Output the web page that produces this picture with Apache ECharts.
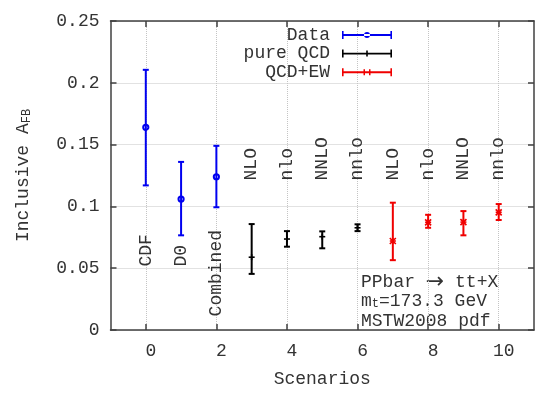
<!DOCTYPE html>
<html><head><meta charset="utf-8">
<script src="https://cdn.jsdelivr.net/npm/echarts@6/dist/echarts.min.js"></script>
<style>html,body{margin:0;padding:0;background:#fff}#c{width:550px;height:393px}</style>
</head><body><div id="c"></div><script>
const FONT = '"Liberation Mono", "DejaVu Sans Mono", monospace';
const TXT = '#333';

// Measured data
const dataX   = [0, 1, 2];
const dataVal = [0.164, 0.106, 0.124];
const dataLo  = [0.117, 0.0766, 0.0993];
const dataHi  = [0.2105, 0.136, 0.149];

const qcdX   = [3, 4, 5, 6];
const qcdVal = [0.0589, 0.0736, 0.0755, 0.0827];
const qcdLo  = [0.0454, 0.0674, 0.0661, 0.0800];
const qcdHi  = [0.0857, 0.0800, 0.0798, 0.0855];

const ewX   = [7, 8, 9, 10];
const ewVal = [0.0720, 0.0871, 0.0873, 0.0952];
const ewLo  = [0.0565, 0.0827, 0.0766, 0.0890];
const ewHi  = [0.1030, 0.0932, 0.0962, 0.1019];

// Tick values
const xTickValues = [0, 2, 4, 6, 8, 10];
const yTickValues = [0, 0.05, 0.1, 0.15, 0.2, 0.25];

// Annotation labels (data coordinates where the rotated text starts)
const bottomLabels = ['CDF', 'D0', 'Combined'];
const bottomLabelX = [0, 1, 2];
const bottomLabelY = [0.0513, 0.0513, 0.011];
const topLabels = ['NLO', 'nlo', 'NNLO', 'nnlo', 'NLO', 'nlo', 'NNLO', 'nnlo'];
const topLabelX = [3, 4, 5, 6, 7, 8, 9, 10];
const topLabelY = [0.121, 0.121, 0.121, 0.121, 0.121, 0.121, 0.121, 0.121];

const seriesNames = ['Data', 'pure QCD', 'QCD+EW'];
const seriesColors = ['#0000f0', '#000000', '#f00000'];

function rows(x, v, lo, hi) { return x.map((xx, i) => [xx, v[i], lo[i], hi[i]]); }

function marker(kind, cx, cy, color) {
  const s = {stroke: color, lineWidth: 1.6};
  if (kind === 'circle') return [{type: 'circle', shape: {cx, cy, r: 2.6}, style: {fill: 'none', stroke: color, lineWidth: 2}}];
  const out = [
    {type: 'line', shape: {x1: cx - 3, y1: cy, x2: cx + 3, y2: cy}, style: s},
    {type: 'line', shape: {x1: cx, y1: cy - 3, x2: cx, y2: cy + 3}, style: s}
  ];
  if (kind === 'star') {
    out.push({type: 'line', shape: {x1: cx - 3, y1: cy - 3, x2: cx + 3, y2: cy + 3}, style: s});
    out.push({type: 'line', shape: {x1: cx - 3, y1: cy + 3, x2: cx + 3, y2: cy - 3}, style: s});
  }
  return out;
}

function errRender(color, kind) {
  return function (params, api) {
    const x = api.value(0), v = api.value(1), lo = api.value(2), hi = api.value(3);
    const pc = api.coord([x, v]), pl = api.coord([x, lo]), ph = api.coord([x, hi]);
    const st = {stroke: color, lineWidth: 2};
    const cap = 3;
    return {type: 'group', children: [
      {type: 'line', shape: {x1: pl[0], y1: pl[1], x2: ph[0], y2: ph[1]}, style: st},
      {type: 'line', shape: {x1: pl[0] - cap, y1: pl[1], x2: pl[0] + cap, y2: pl[1]}, style: st},
      {type: 'line', shape: {x1: ph[0] - cap, y1: ph[1], x2: ph[0] + cap, y2: ph[1]}, style: st}
    ].concat(marker(kind, pc[0], pc[1], color))};
  };
}

function labelRender(texts) {
  return function (params, api) {
    const p = api.coord([api.value(0), api.value(1)]);
    return {type: 'text', x: p[0], y: p[1], rotation: Math.PI / 2,
      style: {text: texts[params.dataIndex], x: 0, y: 0, font: '18px ' + FONT, fill: TXT,
              align: 'left', verticalAlign: 'middle'}};
  };
}

// legend icons: a tiny dot at the far left widens the box so the visible sample keeps a gap from the text
const icons = [
  'path://M-7,4h0.01v0.01h-0.01z M0,0h1.6v8h-1.6z M0,3h50v2h-50z M48.4,0h1.6v8h-1.6z M22,4a3,3 0 1,0 6,0a3,3 0 1,0 -6,0z',
  'path://M-7,4h0.01v0.01h-0.01z M0,0h1.6v8h-1.6z M0,3.2h50v1.6h-50z M48.4,0h1.6v8h-1.6z M24.2,1h1.6v6h-1.6z',
  'path://M-7,4h0.01v0.01h-0.01z M0,0h1.6v8h-1.6z M0,3h50v2h-50z M48.4,0h1.6v8h-1.6z M21.5,1h1.5v6h-1.5z M27,1h1.5v6h-1.5z'
];

const axisLineStyle = {color: '#404040', width: 1.5};
const gridLineStyle = {color: '#c4c4c4', type: 'dotted', width: 1};
const subRich = {
  n: {fontFamily: FONT, fontSize: 18, lineHeight: 18, color: TXT, verticalAlign: 'top'},
  s: {fontFamily: FONT, fontSize: 12, lineHeight: 12, color: TXT, verticalAlign: 'bottom', padding: [8, 0, 0, 0]}
};
const chart = echarts.init(document.getElementById('c'), null, {renderer: 'canvas'});
chart.setOption({
  animation: false,
  backgroundColor: '#fff',
  grid: {left: 110.5, right: 16, top: 21, bottom: 63},
  legend: {
    data: seriesNames.map((n, i) => ({name: n, icon: icons[i]})),
    orient: 'vertical', align: 'right', right: 158, top: 26, padding: 0,
    itemWidth: 57, itemHeight: 8, itemGap: 0.6,
    textStyle: {fontFamily: FONT, fontSize: 18, color: TXT},
    selectedMode: false
  },
  xAxis: [{
    type: 'value', min: -1, max: 11,
    name: 'Scenarios', nameLocation: 'middle', nameGap: 40,
    nameTextStyle: {fontFamily: FONT, fontSize: 18, color: TXT},
    axisLine: {onZero: false, lineStyle: axisLineStyle},
    axisTick: {inside: true, length: 6, lineStyle: axisLineStyle, customValues: xTickValues},
    axisLabel: {fontFamily: FONT, fontSize: 18, color: TXT, margin: 12, padding: [0, 0, 0, 10],
      customValues: xTickValues},
    splitLine: {show: true, lineStyle: gridLineStyle}
  }, {
    type: 'value', position: 'top', min: -1, max: 11,
    axisLine: {onZero: false, lineStyle: axisLineStyle},
    axisTick: {inside: true, length: 6, lineStyle: axisLineStyle, customValues: xTickValues},
    axisLabel: {show: false}, splitLine: {show: false}
  }],
  yAxis: [{
    type: 'value', min: 0, max: 0.25, interval: 0.05,
    name: '{n|Inclusive A}{s|FB}', nameLocation: 'middle', nameGap: 78, nameRotate: 90,
    nameTextStyle: {fontFamily: FONT, color: TXT, rich: subRich},
    axisLine: {show: true, onZero: false, lineStyle: axisLineStyle},
    axisTick: {show: true, inside: true, length: 6, lineStyle: axisLineStyle, customValues: yTickValues},
    axisLabel: {fontFamily: FONT, fontSize: 18, color: TXT, margin: 11, customValues: yTickValues},
    splitLine: {show: true, lineStyle: gridLineStyle}
  }, {
    type: 'value', position: 'right', min: 0, max: 0.25, interval: 0.05,
    axisLine: {show: true, onZero: false, lineStyle: axisLineStyle},
    axisTick: {show: true, inside: true, length: 6, lineStyle: axisLineStyle, customValues: yTickValues},
    axisLabel: {show: false}, splitLine: {show: false}
  }],
  graphic: [
    {type: 'text', x: 361, y: 282, style: {text: '{n|PPbar }{a|\u2192}{n| tt+X}', verticalAlign: 'middle', rich: {
      n: {fontFamily: FONT, fontSize: 18, lineHeight: 20, fill: TXT},
      a: {fontFamily: '"DejaVu Sans"', fontSize: 22, lineHeight: 20, fill: TXT}
    }}},
    {type: 'text', x: 361, y: 301, style: {text: '{n|m}{s|t}{n|=173.3 GeV}', verticalAlign: 'middle', rich: {
      n: {fontFamily: FONT, fontSize: 18, lineHeight: 18, fill: TXT, verticalAlign: 'top'},
      s: {fontFamily: FONT, fontSize: 12, lineHeight: 12, fill: TXT, verticalAlign: 'bottom', padding: [8, 0, 0, 0]}
    }}},
    {type: 'text', x: 361, y: 321, style: {text: 'MSTW2008 pdf', font: '18px ' + FONT, fill: TXT, verticalAlign: 'middle'}}
  ],
  series: [
    {name: seriesNames[0], type: 'custom', color: seriesColors[0], renderItem: errRender(seriesColors[0], 'circle'),
      data: rows(dataX, dataVal, dataLo, dataHi), encode: {x: 0, y: 1}, z: 5},
    {name: seriesNames[1], type: 'custom', color: seriesColors[1], renderItem: errRender(seriesColors[1], 'plus'),
      data: rows(qcdX, qcdVal, qcdLo, qcdHi), encode: {x: 0, y: 1}, z: 5},
    {name: seriesNames[2], type: 'custom', color: seriesColors[2], renderItem: errRender(seriesColors[2], 'star'),
      data: rows(ewX, ewVal, ewLo, ewHi), encode: {x: 0, y: 1}, z: 5},
    {name: 'bottomLabels', type: 'custom', renderItem: labelRender(bottomLabels),
      data: bottomLabelX.map((x, i) => [x, bottomLabelY[i]]), encode: {x: 0, y: 1}, silent: true},
    {name: 'topLabels', type: 'custom', renderItem: labelRender(topLabels),
      data: topLabelX.map((x, i) => [x, topLabelY[i]]), encode: {x: 0, y: 1}, silent: true}
  ]
});
</script></body></html>
